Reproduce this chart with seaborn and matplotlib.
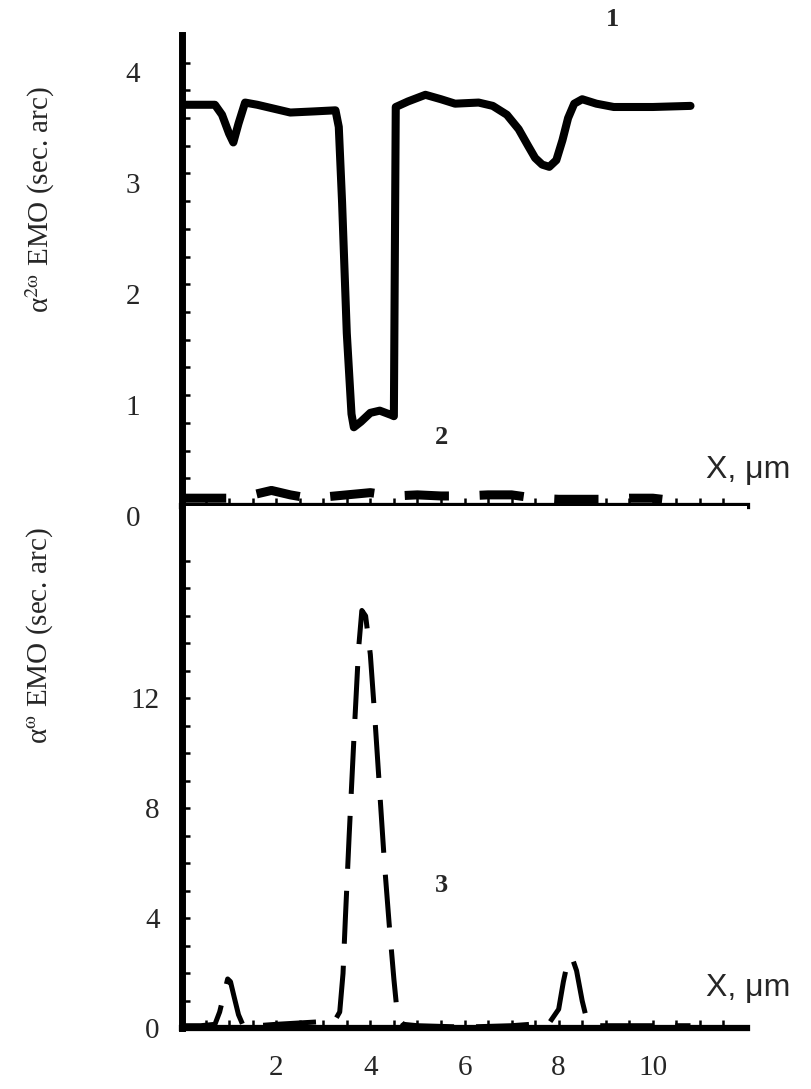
import numpy as np
import matplotlib.pyplot as plt
import seaborn as sns
from matplotlib.ticker import FixedLocator
from matplotlib.transforms import ScaledTranslation

sns.set_style('ticks')
plt.rcParams['font.family'] = ['Liberation Serif', 'DejaVu Serif']
plt.rcParams['mathtext.fontset'] = 'stix'

# curve 1: alpha^2w, solid
x1 = [0, 0.7, 0.85, 1.0, 1.09, 1.2, 1.34, 1.6, 2.0, 2.3, 2.8, 3.26, 3.33, 3.4, 3.5,
      3.6, 3.65, 3.8, 4.0, 4.2, 4.45, 4.5, 4.54, 4.8, 5.17, 5.5, 5.8, 6.3, 6.6, 6.9,
      7.15, 7.35, 7.5, 7.65, 7.8, 7.95, 8.08, 8.2, 8.33, 8.5, 8.8, 9.17, 10.0, 10.8]
y1 = [3.62, 3.62, 3.53, 3.36, 3.28, 3.45, 3.64, 3.62, 3.58, 3.55, 3.56, 3.57, 3.42, 2.74, 1.56,
      0.83, 0.71, 0.76, 0.84, 0.86, 0.82, 0.81, 3.60, 3.65, 3.71, 3.67, 3.63, 3.64, 3.61, 3.53,
      3.40, 3.25, 3.14, 3.08, 3.06, 3.12, 3.30, 3.50, 3.63, 3.67, 3.63, 3.60, 3.60, 3.61]

# curve 2: alpha^2w, dashed, near zero
x2 = [0, 0.5, 1.0, 1.5, 1.9, 2.3, 2.7, 3.0, 3.5, 4.0, 4.5, 5.0, 5.5, 6.0, 6.5, 7.0,
      7.5, 8.0, 8.5, 9.0, 9.5, 10.0, 10.2]
y2 = [0.07, 0.07, 0.07, 0.10, 0.14, 0.10, 0.07, 0.08, 0.10, 0.12, 0.09, 0.10, 0.09, 0.09,
      0.10, 0.10, 0.07, 0.06, 0.06, 0.06, 0.07, 0.07, 0.06]

# curve 3: alpha^w, dashed
x3 = [0, 0.4, 0.7, 0.8, 0.9, 0.97, 1.03, 1.1, 1.2, 1.3, 1.6, 2.0, 2.5, 3.0, 3.25, 3.35,
      3.42, 3.47, 3.55, 3.65, 3.75, 3.82, 3.9, 4.0, 4.1, 4.2, 4.3, 4.4, 4.5, 4.58, 4.7,
      5.0, 6.0, 7.0, 7.8, 8.0, 8.1, 8.2, 8.28, 8.38, 8.5, 8.6, 8.8, 9.5, 10.0, 10.8]
y3 = [0.1, 0.1, 0.15, 0.6, 1.3, 1.8, 1.7, 1.2, 0.5, 0.1, 0.1, 0.15, 0.2, 0.25, 0.3, 0.6,
      2.0, 4.0, 7.0, 10.5, 13.8, 15.2, 15.0, 13.6, 11.2, 8.6, 6.0, 3.8, 1.8, 0.4, 0.15,
      0.1, 0.05, 0.1, 0.2, 0.7, 1.7, 2.5, 2.6, 2.1, 1.0, 0.3, 0.1, 0.1, 0.1, 0.1]

xticks = [2, 4, 6, 8, 10]
yticks_top = [0, 1, 2, 3, 4]
yticks_bot = [0, 4, 8, 12]

fig = plt.figure(figsize=(8.11, 10.89), dpi=100)
ax1 = fig.add_axes([0.2244, 0.5354, 0.6967, 0.4325])
ax2 = fig.add_axes([0.2244, 0.0556, 0.6967, 0.4798])

sns.lineplot(x=x1, y=y1, ax=ax1, color='black', lw=5.8, estimator=None, sort=False,
             solid_joinstyle='round', solid_capstyle='round')
sns.lineplot(x=x2, y=y2, ax=ax1, color='black', lw=6.5, estimator=None, sort=False)
ax1.lines[-1].set_dashes([4.9, 3.4])
ax1.lines[-1].set_clip_on(False)

sns.lineplot(x=x3, y=y3, ax=ax2, color='black', lw=3.6, estimator=None, sort=False)
ax2.lines[-1].set_dashes([10.6, 4.4])
ax2.lines[-1].set_clip_on(False)

for ax in (ax1, ax2):
    sns.despine(ax=ax)
    ax.set_facecolor('white')
    ax.spines['left'].set_linewidth(5)
    ax.spines['bottom'].set_linewidth(4.5)
    ax.spines['left'].set_color('black')
    ax.spines['bottom'].set_color('black')
    ax.set_xlim(0, 12)
    ax.set_xlabel('')
    ax.set_ylabel('')
    ax.xaxis.set_minor_locator(FixedLocator(np.arange(0.5, 11.6, 0.5)))
    ax.tick_params(which='both', direction='in', length=6, width=1.8, color='black')

ax1.set_ylim(0, 4.25)
ax1.set_xticks(xticks, [str(t) for t in xticks], fontfamily='Liberation Sans', fontsize=20)
ax1.set_yticks(yticks_top, [str(t) for t in yticks_top], fontsize=21)
ax1.yaxis.set_minor_locator(FixedLocator(np.arange(0.25, 4.01, 0.25)))
ax1.tick_params(axis='y', pad=30)
ax1.tick_params(axis='x', pad=17)
shift = ScaledTranslation(0, -7 / 72, fig.dpi_scale_trans)
for lab in ax1.get_yticklabels():
    lab.set_transform(lab.get_transform() + shift)

ax2.set_ylim(0, 19)
ax2.set_xticks(xticks, [str(t) for t in xticks], fontsize=21)
ax2.set_yticks(yticks_bot, [str(t) for t in yticks_bot], fontsize=21)
ax2.yaxis.set_minor_locator(FixedLocator(np.arange(1, 18, 1)))
ax2.tick_params(axis='y', pad=16)
ax2.tick_params(axis='x', pad=19)

fig.text(40 / 811, 1 - 200 / 1089, r'α$^{2\mathrm{\omega}}$ EMO (sec. arc)', rotation=90,
         ha='center', va='center', fontsize=21)
fig.text(40 / 811, 1 - 636 / 1089, r'α$^{\mathrm{\omega}}$ EMO (sec. arc)', rotation=90,
         ha='center', va='center', fontsize=21)

fig.text(748 / 811, 1 - 470 / 1089, 'X, μm', ha='center', va='center',
         fontfamily='Liberation Sans', fontsize=23)
fig.text(748 / 811, 1 - 988 / 1089, 'X, μm', ha='center', va='center',
         fontfamily='Liberation Sans', fontsize=23)

fig.text(612 / 811, 1 - 20 / 1089, '1', ha='center', va='center', fontsize=19, fontweight='bold')
fig.text(441 / 811, 1 - 437 / 1089, '2', ha='center', va='center', fontsize=19, fontweight='bold')
fig.text(441 / 811, 1 - 885 / 1089, '3', ha='center', va='center', fontsize=19, fontweight='bold')

fig.savefig('out.png', dpi=100, facecolor='white')
